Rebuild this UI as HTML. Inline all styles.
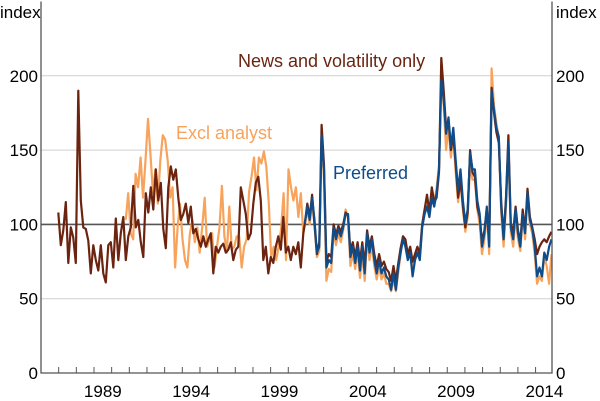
<!DOCTYPE html>
<html><head><meta charset="utf-8"><style>
body{margin:0;background:#fff;}
svg{display:block;font-family:"Liberation Sans",Arial,sans-serif;}
</style></head><body>
<svg id="chart" width="600" height="401" viewBox="0 0 600 401" xmlns="http://www.w3.org/2000/svg">
<g id="grid"></g>
<g id="series"></g>
<g id="axes"></g>
<text x="0" y="18" font-size="17" fill="#000">index</text>
<text x="556" y="18" font-size="17" fill="#000">index</text>
<text x="238" y="67" font-size="18" fill="#6b2410">News and volatility only</text>
<text x="176" y="139" font-size="18" fill="#f7a35c">Excl analyst</text>
<text x="333" y="179" font-size="18" fill="#0f4c8a">Preferred</text>
</svg>
<script>
const yTicks=[0,50,100,150,200];
const xLabels=[1989,1994,1999,2004,2009,2014];
const brownEarly=[108,86,96,115,74,98,91,74,190,116,98,97,89,67,86,76,69,86,67,61,86,88,71,104,76,94,105,76,92,98,126,98,103,88,78,121,108,125,110,137,116,128,97,84,125,139,130,137,118,103,107,114,101,112,94,97,90,85,92,85,90,94,67,85,81,85,87,81,83,88,76,83,85,125,116,107,90,94,114,128,132,116,76,85,67,78,74,85,92,83,105,81,85,76,85,80,88,71,94];
const brownLate=[101,114,105,120,100,80,88,167,140,75,80,78,100,93,99,95,100,108,106,82,88,78,88,75,88,72,96,85,92,80,72,80,72,75,70,68,62,72,62,74,84,92,90,80,85,75,80,85,80,100,110,120,108,125,115,118,135,212,190,165,170,150,160,140,118,130,112,98,108,150,135,132,112,105,88,96,110,88,192,175,162,155,115,92,118,160,100,95,112,96,88,110,96,124,105,98,90,80,85,88,90,88,92,95];
const orangeEarly=[103,121,94,90,134,125,145,118,143,171,148,121,137,114,143,160,157,143,118,125,71,98,114,90,76,71,94,103,88,98,81,98,118,85,90,94,71,85,98,126,92,81,112,83,85,92,92,71,85,90,122,132,145,123,145,141,149,139,114,78,85,76,85,97,121,76,137,125,116,125,105,121,94];
const orangeLate=[100,110,100,115,100,78,82,158,130,62,70,68,95,86,94,88,96,110,104,72,80,70,82,64,80,62,92,76,86,72,63,72,63,67,60,60,55,63,55,68,80,92,86,78,84,70,80,84,78,100,110,115,108,120,115,124,140,195,180,150,165,145,160,135,115,130,110,95,105,140,130,130,110,100,80,90,108,80,205,180,168,158,108,85,112,150,95,85,105,90,82,105,90,120,100,94,80,60,65,62,78,72,60,80];
const blueLate=[101,112,103,118,103,81,85,160,137,71,76,74,98,90,97,92,98,107,107,78,85,74,85,69,85,67,94,81,90,76,67,76,67,71,65,63,56,67,56,71,81,90,85,76,81,65,76,81,76,98,107,112,105,118,112,121,137,197,184,161,172,152,165,143,123,137,116,101,110,148,137,137,116,107,85,94,112,85,190,177,165,159,112,90,116,155,98,90,110,94,85,107,94,121,103,97,85,65,71,65,81,76,85,90];
const ranges={brownEarly:[1986.98,2000.85],orangeEarly:[1990.8,2000.85],late:[2000.94,2014.9]};

const X0=41,X1=552,Y0=373,YT=1.5,YMIN=1986,YMAX=2014.93,VMAX=250;
const xs=y=>X0+(y-YMIN)/(YMAX-YMIN)*(X1-X0);
const ys=v=>Y0-(v/VMAX)*(Y0-YT);
const NS='http://www.w3.org/2000/svg';
function mk(tag,attrs,parent){const e=document.createElementNS(NS,tag);for(const k in attrs)e.setAttribute(k,attrs[k]);parent.appendChild(e);return e;}
const grid=document.getElementById('grid'),axes=document.getElementById('axes'),ser=document.getElementById('series');
yTicks.forEach(t=>{
  if(t>0){const l=mk('line',{x1:X0,x2:X1,y1:ys(t),y2:ys(t),stroke:t===100?'#555':'#cfcfcf','stroke-width':t===100?1.6:1},grid);
  
  }
  const a=mk('text',{x:38,y:ys(t)+6,'text-anchor':'end','font-size':17},axes);a.textContent=t;
  
  
  const b=mk('text',{x:556,y:ys(t)+6,'font-size':17},axes);b.textContent=t;
  
  
});
const ax=mk('path',{d:`M${X0},${YT}V${Y0}H${X1}V${YT}`,fill:'none',stroke:'#555','stroke-width':1.3},axes);


for(let yr=1987;yr<=2014;yr++){
  const t=mk('line',{x1:xs(yr),x2:xs(yr),y1:Y0,y2:Y0-6,stroke:'#555','stroke-width':1},axes);
  
  
}
xLabels.forEach(yr=>{
  const t=mk('text',{x:xs(yr+0.5),y:397,'text-anchor':'middle','font-size':17},axes);t.textContent=yr;
  
  
});
function pts(arr,r){const n=arr.length;return arr.map((v,i)=>[r[0]+(r[1]-r[0])*i/(n-1),v]);}
function line(points,color,name){
  const d=points.map((p,i)=>(i?'L':'M')+xs(p[0]).toFixed(1)+','+ys(p[1]).toFixed(1)).join('');
  const p=mk('path',{d:d,fill:'none',stroke:color,'stroke-width':2.2,'stroke-linejoin':'round'},ser);
  
  
}
line(pts(orangeEarly,ranges.orangeEarly).concat(pts(orangeLate,ranges.late)),'#f7a35c','line-excl-analyst');
line(pts(brownEarly,ranges.brownEarly).concat(pts(brownLate,ranges.late)),'#6b2410','line-news-volatility');
line(pts(blueLate,ranges.late),'#0f4c8a','line-preferred');
</script>
</body></html>
